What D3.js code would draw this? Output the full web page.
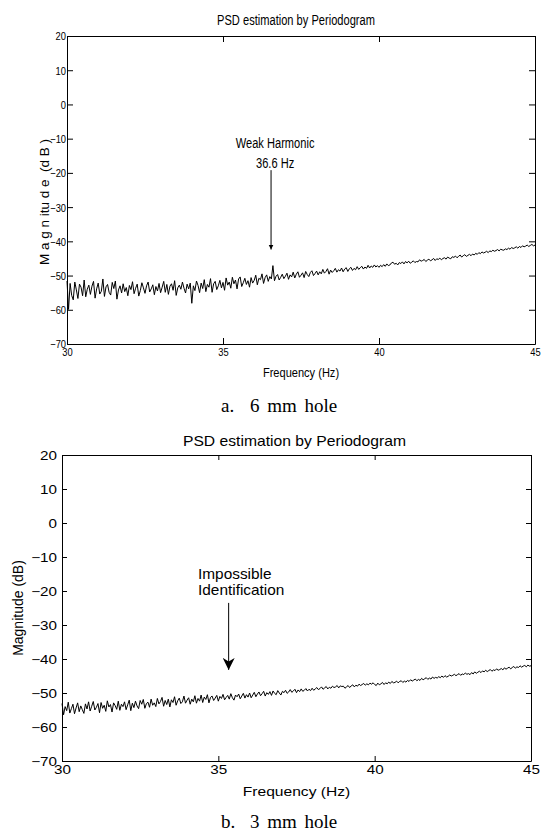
<!DOCTYPE html>
<html>
<head>
<meta charset="utf-8">
<script src="https://cdn.jsdelivr.net/npm/d3@7"></script>
<style>
  body { margin: 0; background: #fff; }
</style>
</head>
<body>
<div id="chart"></div>
<script>
// frequency grid of both periodograms (Hz)
const freqStart = 30, freqStep = 0.05;

// panel a: 6 mm hole, magnitude in dB, one value every 0.05 Hz from 30 to 45 Hz
const magA = [
  -51.6, -59.9, -52.3, -55.8, -57.1, -51.9, -54.2, -56.7, -52.5, -53.4, -55.9, -51.3, -56.2, -54.0, -52.8, -55.5, -53.1, -51.7, -56.6, -53.9,
  -52.2, -55.4, -54.6, -51.0, -56.1, -53.3, -52.6, -54.9, -55.7, -52.0, -53.8, -51.6, -56.9, -54.2, -53.0, -55.1, -52.4, -54.7, -53.5, -55.9,
  -52.9, -54.1, -51.8, -55.3, -53.7, -52.5, -56.0, -54.4, -52.1, -53.6, -55.2, -53.0, -51.9, -54.8, -53.9, -52.7, -55.6, -53.2, -54.5, -52.3,
  -55.0, -53.4, -51.7, -54.9, -52.6, -55.5, -53.1, -52.4, -54.3, -51.5, -55.8, -53.6, -52.8, -54.0, -51.9, -53.7, -55.1, -52.5, -53.9, -52.2,
  -58.1, -53.0, -54.4, -51.6, -52.9, -55.0, -52.2, -53.8, -51.2, -54.7, -52.6, -53.4, -50.9, -54.9, -52.4, -51.7, -54.1, -53.0, -51.4, -53.6,
  -52.0, -54.3, -50.7, -52.8, -51.9, -53.7, -50.5, -52.4, -51.3, -53.9, -51.0, -50.4, -53.2, -52.1, -50.8, -52.6, -51.5, -53.4, -50.6, -52.2,
  -51.4, -49.9, -52.7, -50.8, -51.2, -49.5, -52.3, -50.6, -49.8, -51.7, -50.3, -51.0, -47.1, -51.5, -50.2, -49.7, -51.3, -50.5, -49.6, -50.9,
  -50.2, -49.3, -51.1, -49.8, -50.4, -49.0, -50.7, -49.6, -48.9, -50.5, -49.9, -49.2, -50.6, -48.8, -49.7, -50.3, -49.1, -48.6, -50.0, -49.4,
  -48.7, -49.8, -48.9, -49.5, -48.2, -49.3, -48.8, -48.0, -49.6, -48.4, -49.1, -48.6, -47.9, -49.0, -48.3, -48.7, -47.8, -48.9, -48.1, -47.7,
  -48.8, -48.0, -47.6, -48.5, -47.9, -48.3, -47.4, -48.2, -47.7, -47.3, -48.1, -47.5, -47.9, -47.0, -47.8, -47.2, -47.6, -46.9, -47.5, -47.1,
  -47.6, -47.0, -47.4, -46.8, -47.3, -46.6, -47.1, -46.9, -46.3, -46.1, -46.7, -46.4, -46.9, -46.2, -46.5, -46.0, -46.6, -45.9, -46.3, -45.8,
  -46.4, -46.1, -45.7, -46.2, -45.9, -46.0, -45.4, -45.8, -45.6, -45.3, -45.9, -45.5, -45.2, -45.7, -45.4, -45.0, -45.6, -45.1, -45.3, -44.9,
  -45.4, -45.0, -44.8, -45.2, -44.6, -44.9, -45.1, -44.5, -44.7, -44.3, -44.8, -44.4, -44.0, -44.6, -44.2, -43.9, -44.4, -44.1, -43.8, -44.2,
  -43.7, -44.0, -43.5, -43.8, -43.3, -43.6, -43.1, -43.4, -43.2, -42.9, -43.3, -42.8, -43.0, -42.6, -42.9, -42.7, -42.4, -42.8, -42.3, -42.5,
  -42.6, -42.2, -42.4, -42.0, -42.3, -41.8, -42.1, -41.9, -41.6, -42.0, -41.5, -41.8, -41.3, -41.6, -41.4, -41.1, -41.5, -41.2, -40.9, -41.3,
  -41.1
];

// panel b: 3 mm hole
const magB = [
  -53.1, -56.4, -54.0, -55.2, -52.7, -55.9, -54.6, -53.3, -56.1, -54.4, -52.9, -55.5, -53.8, -54.9, -56.0, -53.2, -54.7, -52.6, -55.3, -53.9,
  -52.5, -55.0, -54.2, -53.1, -55.8, -52.8, -54.5, -53.6, -55.4, -52.3, -54.1, -53.4, -55.6, -52.9, -53.7, -54.8, -52.4, -55.1, -53.3, -54.0,
  -52.6, -54.9, -53.5, -52.1, -55.2, -53.0, -54.3, -52.4, -53.8, -54.6, -52.2, -53.3, -51.9, -54.5, -53.1, -52.7, -54.2, -51.8, -53.6, -52.9,
  -54.0, -51.6, -53.2, -52.5, -51.3, -53.9, -52.2, -53.4, -51.8, -54.1, -52.0, -52.8, -51.1, -53.6, -52.3, -51.5, -53.1, -52.6, -50.9, -53.0,
  -52.1, -51.4, -53.3, -51.8, -52.6, -50.8, -53.0, -51.6, -52.4, -50.6, -52.8, -51.2, -51.9, -50.5, -52.9, -51.3, -50.9, -52.2, -51.5, -50.7,
  -52.4, -51.0, -51.6, -50.4, -52.0, -51.3, -50.7, -51.8, -50.2, -51.4, -52.1, -50.6, -51.1, -50.3, -51.7, -50.9, -50.1, -51.5, -50.5, -51.2,
  -50.0, -51.4, -50.6, -49.8, -51.1, -50.3, -49.7, -50.8, -50.2, -49.5, -50.9, -49.9, -50.4, -49.6, -50.7, -49.4, -50.1, -50.5, -49.3, -50.0,
  -50.6, -49.5, -49.9, -49.2, -50.1, -49.7, -49.0, -49.8, -49.4, -48.9, -49.9, -49.1, -49.6, -48.8, -49.5, -49.2, -48.7, -49.4, -48.9, -49.3,
  -48.6, -49.2, -48.8, -48.4, -49.0, -48.7, -48.2, -48.9, -48.5, -48.1, -48.8, -48.3, -48.6, -48.0, -48.4, -48.2, -47.8, -48.5, -47.9, -48.1,
  -48.0, -48.6, -48.2, -47.8, -48.4, -47.9, -47.6, -48.2, -47.7, -48.0, -47.4, -47.8, -47.5, -47.2, -47.7, -47.3, -47.6, -47.1, -47.4, -47.0,
  -47.5, -47.8, -47.1, -47.6, -47.3, -46.9, -47.5, -47.0, -47.3, -46.8, -47.2, -46.6, -47.0, -46.9, -46.5, -47.0, -46.6, -46.4, -46.9, -46.5,
  -46.8, -46.3, -46.6, -46.1, -46.5, -46.2, -45.9, -46.4, -46.0, -46.3, -45.7, -46.1, -45.8, -45.5, -46.0, -45.6, -45.9, -45.3, -45.7, -45.4,
  -45.6, -45.2, -45.5, -45.0, -45.4, -44.9, -45.3, -45.1, -44.7, -45.0, -44.8, -44.5, -44.9, -44.6, -44.3, -44.8, -44.4, -44.6, -44.1, -44.5,
  -44.3, -44.6, -44.0, -44.4, -43.8, -44.2, -43.9, -43.6, -44.0, -43.5, -43.8, -43.3, -43.7, -43.4, -43.1, -43.6, -43.2, -43.4, -42.9, -43.3,
  -43.1, -42.8, -43.2, -42.6, -43.0, -42.7, -42.4, -42.9, -42.5, -42.2, -42.7, -42.3, -42.5, -42.0, -42.4, -42.1, -41.9, -42.3, -41.8, -42.1,
  -42.0
];

const xTicks = [30, 35, 40, 45];
const yTicks = [20, 10, 0, -10, -20, -30, -40, -50, -60, -70];
const titleText = "PSD estimation by Periodogram";
const xLabelText = "Frequency (Hz)";
const captions = ["a.", "6 mm hole", "b.", "3 mm hole"];
const notesA = ["Weak Harmonic", "36.6 Hz"];
const notesB = ["Impossible", "Identification"];

const W = 541, H = 832;
const svg = d3.select("#chart").append("svg")
    .attr("width", W)
    .attr("height", H)
    .style("font-family", "'Liberation Sans', Arial, sans-serif");

svg.append("defs").append("marker")
    .attr("id", "headA")
    .attr("viewBox", "0 0 10 10")
    .attr("refX", 10).attr("refY", 5)
    .attr("markerWidth", 5).attr("markerHeight", 8)
    .attr("markerUnits", "userSpaceOnUse")
    .attr("orient", "auto")
  .append("path")
    .attr("d", "M0,0L10,5L0,10Z")
    .attr("fill", "#000");

svg.select("defs").append("marker")
    .attr("id", "headB")
    .attr("viewBox", "0 0 10 10")
    .attr("refX", 10).attr("refY", 5)
    .attr("markerWidth", 14).attr("markerHeight", 12)
    .attr("markerUnits", "userSpaceOnUse")
    .attr("orient", "auto")
  .append("path")
    .attr("d", "M0,0L10,5L0,10L3,5Z")
    .attr("fill", "#000");

// squeeze or widen text horizontally, the two figures were resized differently
function stretch(sel, sx) {
  sel.each(function() {
    const t = d3.select(this);
    const x = +t.attr("x") || 0;
    t.attr("x", x / sx).attr("transform", `scale(${sx},1)`);
  });
}

function panel(p) {
  const g = svg.append("g");
  const x = d3.scaleLinear().domain([30, 45]).range([p.left, p.right]);
  const y = d3.scaleLinear().domain([-70, 20]).range([p.bottom, p.top]);

  const axes = [
    g.append("g").attr("transform", `translate(0,${p.bottom})`)
      .call(d3.axisBottom(x).tickValues(xTicks).tickSizeInner(-p.tick).tickSizeOuter(0).tickPadding(p.xPad)),
    g.append("g").attr("transform", `translate(0,${p.top})`)
      .call(d3.axisTop(x).tickValues(xTicks).tickSizeInner(-p.tick).tickSizeOuter(0).tickFormat("")),
    g.append("g").attr("transform", `translate(${p.left},0)`)
      .call(d3.axisLeft(y).tickValues(yTicks).tickSizeInner(-p.tick).tickSizeOuter(0).tickPadding(p.yPad)),
    g.append("g").attr("transform", `translate(${p.right},0)`)
      .call(d3.axisRight(y).tickValues(yTicks).tickSizeInner(-p.tick).tickSizeOuter(0).tickFormat(""))
  ];
  axes.forEach(a => {
    a.attr("font-family", null).attr("font-size", null);
    a.selectAll("path, line").attr("stroke", "#000").attr("stroke-width", 1);
    a.selectAll("text").attr("fill", "#000").style("font-size", p.tickFont + "px");
  });
  stretch(axes[0].selectAll("text"), p.tickSx);
  stretch(axes[2].selectAll("text"), p.tickSx);
  axes[2].selectAll("text").attr("dy", "0.36em");

  g.append("path")
    .datum(p.data)
    .attr("fill", "none")
    .attr("stroke", "#000")
    .attr("stroke-width", 1)
    .attr("stroke-linejoin", "round")
    .attr("d", d3.line()
      .x((d, i) => x(freqStart + i * freqStep))
      .y(d => y(d)));

  g.append("text")
    .attr("x", (p.left + p.right) / 2 + p.titleDx).attr("y", p.titleY)
    .attr("text-anchor", "middle")
    .style("font-size", p.titleFont + "px")
    .text(titleText)
    .call(stretch, p.titleSx);

  g.append("text")
    .attr("x", (p.left + p.right) / 2).attr("y", p.xLabelY)
    .attr("text-anchor", "middle")
    .style("font-size", p.xLabelFont + "px")
    .text(xLabelText)
    .call(stretch, p.xLabelSx);

  g.append("text")
    .attr("transform", `translate(${p.yLabelX},${p.yLabelY}) rotate(-90)`)
    .attr("text-anchor", "middle")
    .style("font-size", p.yLabelFont + "px")
    .style("white-space", "pre")
    .text(p.yLabel);

  // annotation and its arrow
  p.notes.forEach((t, i) => {
    g.append("text")
      .attr("x", x(p.noteX)).attr("y", y(p.noteY[i]))
      .attr("text-anchor", p.noteAnchor)
      .style("font-size", p.noteFont + "px")
      .text(t)
      .call(stretch, p.noteSx);
  });
  g.append("line")
    .attr("x1", x(p.arrowX)).attr("x2", x(p.arrowX))
    .attr("y1", y(p.arrowFrom)).attr("y2", y(p.arrowTo))
    .attr("stroke", "#000").attr("stroke-width", 1)
    .attr("marker-end", `url(#${p.marker})`);

  // caption under the figure
  p.caption.forEach((t, i) => {
    g.append("text")
      .attr("x", p.capX[i]).attr("y", p.capY)
      .style("font-family", "'Liberation Serif', 'Times New Roman', serif")
      .style("font-size", "19px")
      .style("word-spacing", "3px")
      .text(t);
  });
}

panel({
  data: magA,
  left: 67, right: 535, top: 36, bottom: 344,
  tick: 6, xPad: 4, yPad: 1,
  tickFont: 11, tickSx: 0.85,
  titleFont: 15, titleSx: 0.74, titleY: 25, titleDx: -5,
  xLabelFont: 13.5, xLabelSx: 0.82, xLabelY: 377,
  yLabel: "M a g n itu d e  (d B )", yLabelFont: 13.5, yLabelX: 49, yLabelY: 202,
  notes: notesA, noteX: 36.67, noteY: [-12.8, -18.6], noteAnchor: "middle",
  noteFont: 15, noteSx: 0.74,
  arrowX: 36.54, arrowFrom: -19.2, arrowTo: -42.4, marker: "headA",
  caption: captions.slice(0, 2), capX: [221, 250], capY: 412
});

panel({
  data: magB,
  left: 62, right: 531, top: 455, bottom: 761,
  tick: 5, xPad: 4, yPad: 5,
  tickFont: 12.5, tickSx: 1.22,
  titleFont: 14, titleSx: 1.12, titleY: 446, titleDx: -2,
  xLabelFont: 13, xLabelSx: 1.2, xLabelY: 796,
  yLabel: "Magnitude (dB)", yLabelFont: 14, yLabelX: 23, yLabelY: 608,
  notes: notesB, noteX: 34.35, noteY: [-16.5, -21.2], noteAnchor: "start",
  noteFont: 14, noteSx: 1.1,
  arrowX: 35.33, arrowFrom: -23.5, arrowTo: -43.2, marker: "headB",
  caption: captions.slice(2, 4), capX: [221, 250], capY: 828
});
</script>
</body>
</html>
